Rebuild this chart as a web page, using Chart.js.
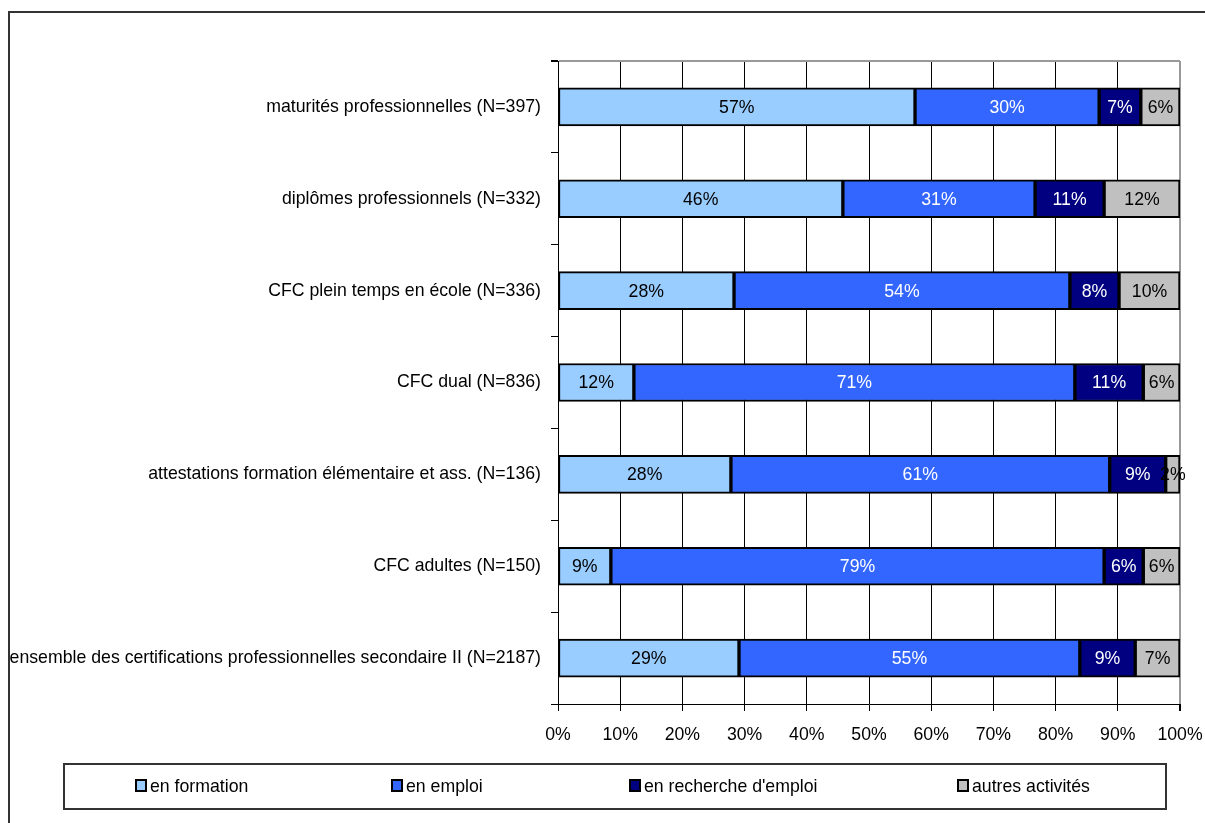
<!DOCTYPE html>
<html>
<head>
<meta charset="utf-8">
<script src="https://cdn.jsdelivr.net/npm/chart.js@4.4.0/dist/chart.umd.min.js"></script>
<style>
  html, body { margin: 0; padding: 0; background: #fff; }
  #wrap { width: 1205px; height: 823px; }
</style>
</head>
<body>
<div id="wrap"><canvas id="graph"></canvas></div>
<script>
// donnees
const categories = [
  'maturités professionnelles (N=397)',
  'diplômes professionnels (N=332)',
  'CFC plein temps en école (N=336)',
  'CFC dual (N=836)',
  'attestations formation élémentaire et ass. (N=136)',
  'CFC adultes (N=150)',
  'ensemble des certifications professionnelles secondaire II (N=2187)'
];
const enFormation = [57.4, 45.8, 28.3, 12.2, 27.8, 8.5, 29.1];
const enEmploi    = [29.6, 30.9, 54.0, 70.9, 60.9, 79.3, 54.8];
const enRecherche = [6.7, 11.1, 7.9, 11.0, 9.0, 6.3, 8.9];
const autres      = [6.3, 12.2, 9.8, 5.9, 2.3, 5.9, 7.2];
const seriesNames = ['en formation', 'en emploi', "en recherche d'emploi", 'autres activités'];
const xTicks = [0, 10, 20, 30, 40, 50, 60, 70, 80, 90, 100];

const police = "'Liberation Sans Narrow', 'Arial Narrow', 'Liberation Sans', Arial, sans-serif";
const taille = 17.7;
const couleurs = ['#99CCFF', '#3366FF', '#000080', '#C0C0C0'];
const couleursTexte = ['#000', '#fff', '#fff', '#000'];

// etiquettes dans les barres
const etiquettes = {
  id: 'etiquettes',
  afterDatasetsDraw(chart) {
    const ctx = chart.ctx;
    ctx.save();
    ctx.font = taille + 'px ' + police;
    ctx.textAlign = 'center';
    ctx.textBaseline = 'middle';
    chart.data.datasets.forEach(function (ds, i) {
      const meta = chart.getDatasetMeta(i);
      meta.data.forEach(function (bar, j) {
        ctx.fillStyle = couleursTexte[i];
        ctx.fillText(Math.round(ds.data[j]) + '%', (bar.x + bar.base) / 2, bar.y + 1);
      });
    });
    ctx.restore();
  }
};

// cadre + legende
const posLegende = [136, 392, 630, 958];
const cadre = {
  id: 'cadre',
  afterDraw(chart) {
    const ctx = chart.ctx;
    ctx.save();
    ctx.strokeStyle = '#333';
    ctx.lineWidth = 2;
    ctx.strokeRect(9, 12, 1300, 900);
    ctx.strokeRect(64, 764, 1102, 45);
    ctx.font = taille + 'px ' + police;
    ctx.textBaseline = 'middle';
    ctx.textAlign = 'left';
    chart.data.datasets.forEach(function (ds, i) {
      const x = posLegende[i];
      ctx.fillStyle = ds.backgroundColor;
      ctx.fillRect(x, 780, 10, 11);
      ctx.lineWidth = 2;
      ctx.strokeStyle = '#000';
      ctx.strokeRect(x, 780, 10, 11);
      ctx.fillStyle = '#000';
      ctx.fillText(ds.label, x + 14, 787);
    });
    ctx.restore();
  }
};

const ctx = document.getElementById('graph');
new Chart(ctx, {
  type: 'bar',
  data: {
    labels: categories,
    datasets: [enFormation, enEmploi, enRecherche, autres].map(function (d, i) {
      return {
        label: seriesNames[i],
        data: d,
        backgroundColor: couleurs[i],
        borderColor: '#000',
        borderWidth: 2,
        borderSkipped: false,
        barThickness: 38
      };
    })
  },
  options: {
    indexAxis: 'y',
    responsive: true,
    maintainAspectRatio: false,
    animation: false,
    layout: { padding: { top: 61, right: 25, left: 0, bottom: 0 } },
    plugins: {
      legend: { display: false },
      tooltip: { enabled: false }
    },
    scales: {
      x: {
        stacked: true,
        min: 0,
        max: 100,
        afterBuildTicks: function (scale) {
          scale.ticks = xTicks.map(function (v) { return { value: v }; });
        },
        afterFit: function (scale) {
          scale.height = 119;
          scale.paddingRight = 0;
          scale.paddingLeft = 0;
        },
        ticks: {
          callback: function (v) { return v + '%'; },
          color: '#000',
          font: { family: police, size: taille },
          padding: 13,
          maxRotation: 0
        },
        grid: {
          color: function (c) { return c.index === 10 ? '#999' : '#000'; },
          lineWidth: function (c) { return c.index === 10 ? 2 : 1; },
          tickColor: '#000',
          tickLength: 7
        },
        border: { color: '#000', width: 1 }
      },
      y: {
        stacked: true,
        afterFit: function (scale) { scale.width = 558; },
        ticks: {
          color: '#000',
          font: { family: police, size: taille },
          padding: 10
        },
        grid: {
          offset: true,
          color: function (c) { return c.index === 0 ? '#999' : 'rgba(0,0,0,0)'; },
          lineWidth: function (c) { return c.index === 0 ? 2 : 1; },
          tickColor: '#000',
          tickLength: 7
        },
        border: { color: '#000', width: 1 }
      }
    }
  },
  plugins: [etiquettes, cadre]
});
</script>
</body>
</html>
